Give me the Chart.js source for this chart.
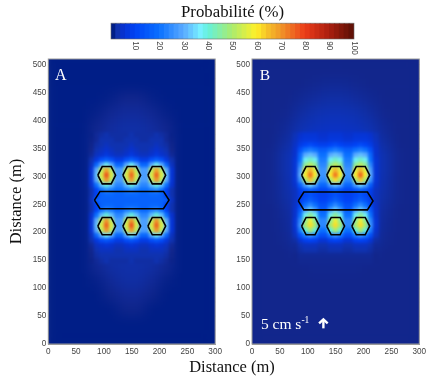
<!DOCTYPE html>
<html><head><meta charset="utf-8">
<style>
html,body{margin:0;padding:0;background:#fff;width:430px;height:383px;overflow:hidden}
canvas{position:absolute;top:0;filter:blur(0.3px)}
#xlab{position:absolute;left:132px;width:200px;top:357px;text-align:center;font:16.5px "Liberation Serif",serif;color:#111;line-height:20px;filter:blur(0.3px)}
</style>
<script src="https://cdn.jsdelivr.net/npm/chart.js@4/dist/chart.umd.min.js"></script>
</head><body>
<canvas id="cb" width="430" height="58" style="left:0;z-index:2"></canvas>
<canvas id="a" width="225" height="383" style="left:0"></canvas>
<canvas id="b" width="205" height="383" style="left:225px"></canvas>
<div id="xlab">Distance (m)</div>
<script>
const distanceTicksX=[0,50,100,150,200,250,300];
const distanceTicksY=[0,50,100,150,200,250,300,350,400,450,500];
const colorbarTicks=[10,20,30,40,50,60,70,80,90,100];
const colorbarLevels=[1,3,5,7,9,11,13,15,17,19,21,23,25,27,29,31,33,35,37,39,41,43,45,47,49,51,53,55,57,59,61,63,65,67,69,71,73,75,77,79,81,83,85,87,89,91,93,95,97,99];
const paletteStops=[0,1,1.6,3,5,10,20,30,37,40,50,60,65,70,80,90,100];
const paletteColors=[[0,15,110],[0,30,135],[18,38,140],[15,50,175],[8,50,205],[0,66,245],[10,112,255],[90,170,255],[120,240,255],[100,240,220],[170,235,110],[255,240,40],[245,190,40],[240,150,40],[235,60,25],[170,30,15],[90,15,5]];

const fineX=[78,87,96,105,114,123,132,141,150,159,168,177,186,195,204,213,222];
const fineY=[374,365,356,347,338,329,320,311,302,293,284,275,266,257,248,239,230,221,212,203,194,185,176,167,158,149];
const coarseX=[12.5,37.5,62.5,87.5,112.5,137.5,162.5,187.5,212.5,237.5,262.5,287.5];
const coarseY=[512.5,487.5,462.5,437.5,412.5,387.5,362.5,337.5,312.5,287.5,262.5,237.5,212.5,187.5,162.5,137.5,112.5,87.5,62.5,37.5,12.5];

const fineA=[
[1.3,2,2.5,3,2.5,2.5,2.5,2.5,3,2.5,2.5,2.5,2.5,3,2.5,2,1.3],
[1.4,2,3,3,3,2.5,2.5,3,3,3,2.5,2.5,3,3,3,2,1.4],
[1.5,2.5,3,4,3,3,3,3,4,3,3,3,3,4,3,2.5,1.5],
[1.6,3,4,5,4,3,3,4,5,4,3,3,4,5,4,3,1.6],
[2,4,5,7,5,4,4,5,7,5,4,4,5,7,5,4,2],
[3,7,13,16,13,8,8,13,16,13,8,8,13,16,13,7,3],
[4,18,30,38,30,18,18,30,38,30,18,18,30,38,30,18,4],
[6,30,52,68,52,28,28,52,68,52,28,28,52,68,52,30,6],
[6,32,56,78,56,28,28,56,76,56,28,28,56,76,56,32,6],
[6,30,52,70,52,28,28,52,70,52,28,28,52,70,52,30,6],
[5,20,32,40,32,24,24,32,40,32,24,24,32,40,32,20,5],
[3,10,20,24,22,20,20,22,24,22,20,20,22,24,20,10,3],
[3,10,17,18,18,17,17,18,18,18,17,17,18,18,17,10,3],
[4,16,17,17,17,17,17,17,17,17,17,17,17,17,17,16,4],
[3,10,17,18,18,17,17,18,18,18,17,17,18,18,17,10,3],
[3,10,20,24,22,18,18,22,24,22,18,18,22,24,20,10,3],
[5,20,32,40,32,24,24,32,40,32,24,24,32,40,32,20,5],
[6,30,52,70,52,28,28,52,70,52,28,28,52,70,52,30,6],
[6,32,56,76,56,28,28,56,78,56,28,28,56,76,56,32,6],
[6,30,52,70,52,28,28,52,70,52,28,28,52,70,52,30,6],
[4,18,30,38,30,18,18,30,38,30,18,18,30,38,30,18,4],
[3,7,12,14,12,8,8,12,14,12,8,8,12,14,12,7,3],
[2,4,5,6,5,4,4,5,6,5,4,4,5,6,5,4,2],
[1.6,3,4,4,4,3,3,4,4,4,3,3,4,4,4,3,1.6],
[1.5,2.5,3,3,3,3,3,3,3,3,3,3,3,3,3,2.5,1.5],
[1.4,2,2.5,3,2.5,2.5,2.5,2.5,3,2.5,2.5,2.5,2.5,3,2.5,2,1.4]];

const fineB=[
[3.5,5,6,6,6,5,5,6,6,6,5,5,6,6,6,5,3.5],
[4,6,7,7,7,6,6,7,7,7,6,6,7,7,7,6,4],
[4.5,8,10,12,10,9,9,10,12,10,9,9,10,12,10,8,4.5],
[5,13,20,22,20,16,16,20,22,20,16,16,20,22,20,13,5],
[5,18,30,32,30,20,20,30,32,30,20,20,30,32,30,18,5],
[6,20,38,42,38,22,22,38,42,38,22,22,38,42,38,20,6],
[6,24,46,52,46,24,24,46,52,46,24,24,46,52,46,24,6],
[6,28,56,66,56,26,26,56,66,56,26,26,56,66,56,28,6],
[6,30,60,74,60,26,26,60,74,60,26,26,60,76,60,30,6],
[6,26,50,64,50,24,24,50,62,50,24,24,50,64,50,26,6],
[5,16,28,34,28,18,18,28,32,28,18,18,28,34,28,16,5],
[4,9,14,16,14,11,11,14,16,14,11,11,14,16,14,9,4],
[4,8,11,13,11,9,9,11,13,11,9,9,11,13,11,8,4],
[4,9,13,16,13,10,10,13,16,13,10,10,13,16,13,9,4],
[4.5,11,20,24,20,13,13,20,24,20,13,13,20,24,20,11,4.5],
[5,15,28,34,28,16,16,28,34,28,16,16,28,34,28,15,5],
[5,20,38,46,38,20,20,38,46,38,20,20,38,46,38,20,5],
[6,24,46,58,46,24,24,46,58,46,24,24,46,58,46,24,6],
[6,26,50,62,50,24,24,50,62,50,24,24,50,62,50,26,6],
[5,22,40,50,40,20,20,40,50,40,20,20,40,50,40,22,5],
[4,13,22,26,22,13,13,22,26,22,13,13,22,26,22,13,4],
[2.5,6,9,10,9,6,6,9,10,9,6,6,9,10,9,6,2.5],
[2,3,4,4,4,3,3,4,4,4,3,3,4,4,4,3,2],
[1.8,2.5,3,3,3,2.5,2.5,3,3,3,2.5,2.5,3,3,3,2.5,1.8],
[1.6,2,2,2,2,2,2,2,2,2,2,2,2,2,2,2,1.6],
[1.6,1.8,1.8,1.8,1.8,1.8,1.8,1.8,1.8,1.8,1.8,1.8,1.8,1.8,1.8,1.8,1.6]];

const coarseA=[
[1,1,1,1,1,1,1,1,1,1,1,1],
[1,1,1,1,1,1,1,1,1,1,1,1],
[1,1,1,1,1,1,1,1,1,1,1,1],
[1,1,1,1,1.2,1.6,1.6,1.2,1,1,1,1],
[1,1,1,1.2,1.8,2.2,2.2,1.8,1.2,1,1,1],
[1,1,1,1.6,2.3,2.6,2.6,2.3,1.6,1,1,1],
[1,1,1,2,2.5,2.7,2.7,2.5,2,1,1,1],
[1,1,1,2,2.5,2.7,2.7,2.5,2,1,1,1],
[1,1,1,2,2.5,2.7,2.7,2.5,2,1,1,1],
[1,1,1,2,2.5,2.7,2.7,2.5,2,1,1,1],
[1,1,1,2,2.5,2.7,2.7,2.5,2,1,1,1],
[1,1,1,2,2.5,2.7,2.7,2.5,2,1,1,1],
[1,1,1,2,2.5,2.7,2.7,2.5,2,1,1,1],
[1,1,1,2,2.5,2.7,2.7,2.5,2,1,1,1],
[1,1,1,2,2.5,2.7,2.7,2.5,2,1,1,1],
[1,1,1,1.8,2.5,2.7,2.7,2.5,1.8,1,1,1],
[1,1,1,1.2,2,2.5,2.5,2,1.2,1,1,1],
[1,1,1,1,1.5,2,2,1.5,1,1,1,1],
[1,1,1,1,1,1.5,1.5,1,1,1,1,1],
[1,1,1,1,1,1,1,1,1,1,1,1],
[1,1,1,1,1,1,1,1,1,1,1,1]];

const coarseB=[
[1.6,1.6,1.6,1.6,1.6,1.6,1.6,1.6,1.6,1.6,1.6,1.6],
[1.6,1.6,1.6,1.6,1.6,1.6,1.6,1.6,1.6,1.6,1.6,1.6],
[1.6,1.6,1.6,1.6,1.8,2,2,1.8,1.6,1.6,1.6,1.6],
[1.6,1.6,1.6,1.9,2.3,2.6,2.6,2.3,1.9,1.6,1.6,1.6],
[1.6,1.6,1.7,2.4,3,3.4,3.4,3,2.4,1.7,1.6,1.6],
[1.6,1.6,2,3,3.8,4.2,4.2,3.8,3,2,1.6,1.6],
[1.6,1.6,2.4,4,5,5,5,5,4,2.4,1.6,1.6],
[1.6,1.7,3,5,5,5,5,5,5,3,1.7,1.6],
[1.6,1.7,3,5,5,5,5,5,5,3,1.7,1.6],
[1.6,1.7,2.8,5,5,5,5,5,5,2.8,1.7,1.6],
[1.6,1.7,2.6,4,4,4,4,4,4,2.6,1.7,1.6],
[1.6,1.6,2.2,4,4,4,4,4,4,2.2,1.6,1.6],
[1.6,1.6,2,4,4,4,4,4,4,2,1.6,1.6],
[1.6,1.6,1.8,3,4,4,4,4,3,1.8,1.6,1.6],
[1.6,1.6,1.6,2,2,2,2,2,2,1.6,1.6,1.6],
[1.6,1.6,1.6,1.6,1.7,1.7,1.7,1.7,1.6,1.6,1.6,1.6],
[1.6,1.6,1.6,1.6,1.6,1.6,1.6,1.6,1.6,1.6,1.6,1.6],
[1.6,1.6,1.6,1.6,1.6,1.6,1.6,1.6,1.6,1.6,1.6,1.6],
[1.6,1.6,1.6,1.6,1.6,1.6,1.6,1.6,1.6,1.6,1.6,1.6],
[1.6,1.6,1.6,1.6,1.6,1.6,1.6,1.6,1.6,1.6,1.6,1.6],
[1.6,1.6,1.6,1.6,1.6,1.6,1.6,1.6,1.6,1.6,1.6,1.6]];

const hexCentersX=[105,150,195];
const hexCentersY=[302,211];
const hexOffsetX=[-16,-8,8,16,8,-8,-16];
const hexOffsetY=[0,15.5,15.5,0,-15.5,-15.5,0];
const wideHexX=[83,93,207,217,207,93,83];
const wideHexYA=[257.5,273,273,257.5,242,242,257.5];
const wideHexYB=[256,272,272,256,240,240,256];

function colorFor(v){
  let i=0; while(i<paletteStops.length-2&&v>paletteStops[i+1])i++;
  const t=Math.max(0,Math.min(1,(v-paletteStops[i])/(paletteStops[i+1]-paletteStops[i])));
  const a=paletteColors[i],b=paletteColors[i+1];
  return `rgb(${a.map((c,k)=>Math.round(c+(b[k]-c)*t)).join(',')})`;
}
function cells(xs,ys,grid){const out=[];ys.forEach((y,r)=>xs.forEach((x,c)=>out.push({x,y,v:grid[r][c]})));return out;}
function heat(label,data,span,order){
  return {type:'scatter',label,data,order,showLine:false,
    pointStyle:'rect',borderWidth:0,pointBorderWidth:0,
    pointBackgroundColor:c=>c.raw?colorFor(c.raw.v):'#000',
    pointRadius:c=>{const s=c.chart.scales.x;return (Math.abs(s.getPixelForValue(span)-s.getPixelForValue(0))+0.7)/Math.SQRT2;},
    pointHoverRadius:0};
}
function line(xs,ys){
  return {type:'scatter',label:'site',order:1,showLine:true,fill:false,
    data:xs.map((x,i)=>({x,y:ys[i]})),borderColor:'#000',borderWidth:1.6,pointRadius:0,tension:0};
}
function hexes(wideY){
  const out=[];
  hexCentersY.forEach(cy=>hexCentersX.forEach(cx=>out.push(line(hexOffsetX.map(o=>cx+o),hexOffsetY.map(o=>cy+o)))));
  out.push(line(wideHexX,wideY));
  return out;
}
const blurAmount={coarse:'blur(6px)',fine:'blur(1.7px)'};
const blurPlugin={id:'blurHeat',
  afterDatasetDraw(chart,args){
    const f=blurAmount[chart.data.datasets[args.index].label];
    if(!f)return;
    const {left,top,width,height}=chart.chartArea,ctx=chart.ctx;
    ctx.save();ctx.beginPath();ctx.rect(left,top,width,height);ctx.clip();
    ctx.filter=f;
    ctx.drawImage(chart.canvas,left,top,width,height,left,top,width,height);
    ctx.restore();
  }};
const framePlugin={id:'frame',
  afterDraw(chart){
    const {left,top,width,height}=chart.chartArea,ctx=chart.ctx;
    ctx.save();ctx.strokeStyle='#9a9a9a';ctx.lineWidth=1;ctx.strokeRect(left,top,width,height);ctx.restore();
  }};
function notes(draw){return {id:'notes',afterDraw(chart){const c=chart.ctx;c.save();c.fillStyle='#fff';c.strokeStyle='#fff';c.textBaseline='alphabetic';draw(c,chart.scales.x,chart.scales.y);c.restore();}};}

function panel(id,rightPad,axisW,coarse,fine,wideY,extra,yTitle){
  return new Chart(document.getElementById(id),{
    type:'scatter',
    data:{datasets:[heat('coarse',cells(coarseX,coarseY,coarse),25,4),heat('fine',cells(fineX,fineY,fine),9,3),...hexes(wideY)]},
    plugins:[blurPlugin,framePlugin,notes(extra)],
    options:{responsive:false,animation:false,events:[],
      layout:{padding:{left:0,top:59,right:rightPad,bottom:19}},
      plugins:{legend:{display:false},tooltip:{enabled:false},title:{display:false}},
      scales:{
        x:{type:'linear',min:0,max:300,afterBuildTicks(s){s.ticks=distanceTicksX.map(value=>({value}));},
          afterFit(s){s.height=20;},
          grid:{display:false,drawTicks:false},border:{display:true,color:'#9a9a9a'},
          ticks:{font:{family:'"Liberation Sans"',size:8.2},color:'#444',padding:3,maxRotation:0,autoSkip:false}},
        y:{type:'linear',min:0,max:510,afterBuildTicks(s){s.ticks=distanceTicksY.map(value=>({value}));},
          afterFit(s){s.width=axisW;},
          grid:{display:false,drawTicks:false},border:{display:true,color:'#9a9a9a'},
          title:yTitle?{display:true,text:'Distance (m)',font:{family:'"Liberation Serif"',size:16.5},color:'#111',padding:{top:7,bottom:0}}:{display:false},
          ticks:{font:{family:'"Liberation Sans"',size:8.2},color:'#444',padding:2,autoSkip:false}}
      }}
  });
}
panel('a',9,48.3,coarseA,fineA,wideHexYA,(c,x,y)=>{
  c.font='16px "Liberation Serif"';c.fillText('A',x.getPixelForValue(12),y.getPixelForValue(472));
},true);
panel('b',10.7,27,coarseB,fineB,wideHexYB,(c,x,y)=>{
  c.font='15.5px "Liberation Serif"';c.fillText('B',x.getPixelForValue(14),y.getPixelForValue(472));
  const px=x.getPixelForValue(16),py=y.getPixelForValue(27);
  c.fillText('5 cm s',px,py);
  const w=c.measureText('5 cm s').width;
  c.font='9.5px "Liberation Serif"';c.fillText('-1',px+w,py-6);
  const ax=x.getPixelForValue(128),ay0=y.getPixelForValue(28),ay1=y.getPixelForValue(46);
  c.lineWidth=2.4;c.lineCap='butt';c.lineJoin='miter';c.beginPath();c.moveTo(ax,ay0);c.lineTo(ax,ay1+2);c.stroke();
  c.beginPath();c.moveTo(ax-4.3,ay1+5);c.lineTo(ax,ay1+1);c.lineTo(ax+4.3,ay1+5);c.stroke();
});

new Chart(document.getElementById('cb'),{
  type:'bar',
  data:{datasets:[{label:'Probabilité (%)',data:colorbarLevels.map(x=>({x,y:1})),
    backgroundColor:colorbarLevels.map(colorFor),barThickness:5.4,borderWidth:0}]},
  plugins:[{id:'cbframe',afterDraw(chart){const {left,top,width,height}=chart.chartArea,c=chart.ctx;c.save();c.strokeStyle='#666';c.lineWidth=.6;c.strokeRect(left,top,width,height);c.restore();}}],
  options:{responsive:false,animation:false,events:[],
    layout:{padding:{left:111,right:76,top:3,bottom:19}},
    plugins:{legend:{display:false},tooltip:{enabled:false},
      title:{display:true,fullSize:false,text:'Probabilité (%)',font:{family:'"Liberation Serif"',size:16.8,weight:'normal'},color:'#111',padding:{top:0,bottom:0}}},
    scales:{
      x:{type:'linear',position:'top',offset:false,min:0,max:100,afterBuildTicks(s){s.ticks=colorbarTicks.map(value=>({value}));},
        afterFit(s){s.height=0;},
        grid:{display:false,drawTicks:false,offset:false},border:{display:false},
        ticks:{mirror:true,font:{family:'"Liberation Sans"',size:8.2},color:'#444',minRotation:-90,maxRotation:-90,padding:18,autoSkip:false}},
      y:{display:false,min:0,max:1}
    }}
});
</script>
</body></html>
